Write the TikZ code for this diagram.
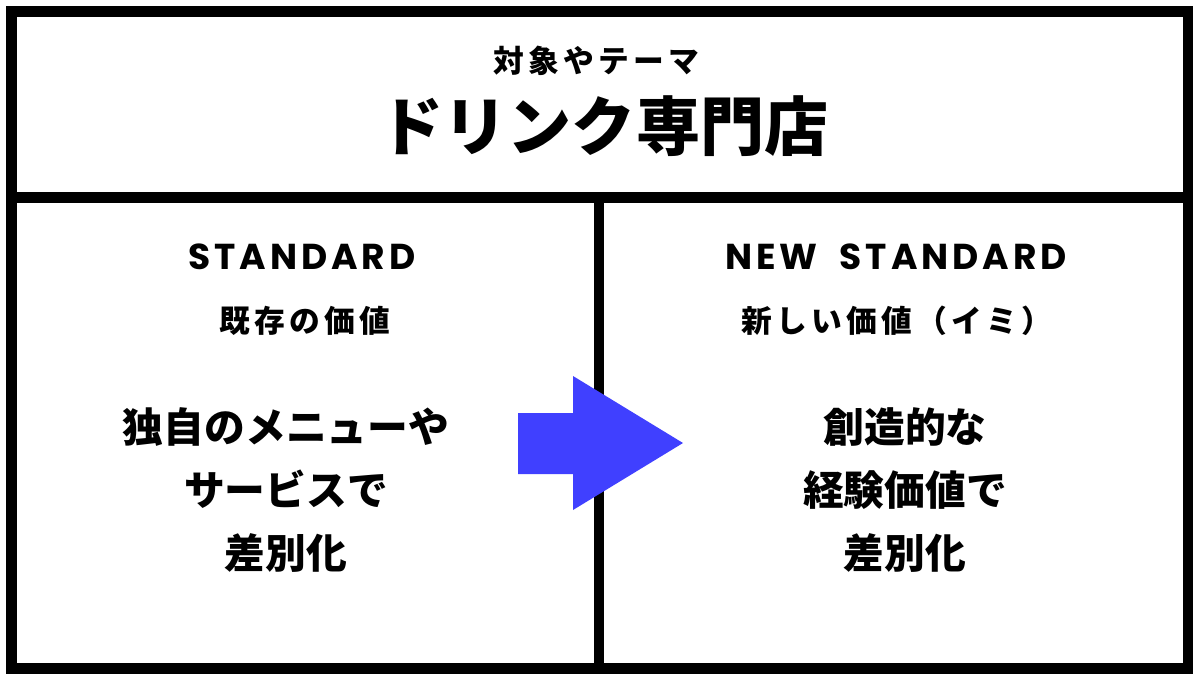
\documentclass[tikz,border=0pt]{standalone}
\usepackage{fontspec}
\newfontfamily\jpfont{Noto Sans CJK JP}
\newfontfamily\jpspaced{Noto Sans CJK JP}[LetterSpace=14]
\newfontfamily\enfont{Poppins}[LetterSpace=11]
\definecolor{arrowblue}{RGB}{64,64,255}
\tikzset{%
    frameline/.style={line width=6.2pt,draw=black},
    subtitle/.style={inner sep=0pt,font=\jpspaced\bfseries\fontsize{17.5}{20}\selectfont},
    maintitle/.style={inner sep=0pt,font=\jpfont\bfseries\fontsize{36.5}{40}\selectfont},
    heading/.style={inner sep=0pt,font=\enfont\bfseries\fontsize{20.5}{24}\selectfont},
    bodytext/.style={inner sep=0pt,align=center,font=\jpfont\bfseries\fontsize{23.2}{35.7}\selectfont}
}

\begin{document}
\begin{tikzpicture}[x=0.02cm,y=-0.02cm]
        \useasboundingbox (0,0) rectangle (1200,680);
        % frame
        \draw[frameline] (11.5,11.5) rectangle (1188,668.5);
        \draw[frameline] (11.5,197.5) -- (1188,197.5);
        \draw[frameline] (599,197.5) -- (599,668.5);
        % arrow
        \fill[arrowblue] (518,413) -- (573,413) -- (573,376) -- (683,443)
            -- (573,510) -- (573,474) -- (518,474) -- cycle;
        % top
        \node[subtitle] (theme) at (596,61) {対象やテーマ};
        \node[maintitle] (shop) at (604,126) {ドリンク専門店};
        % left
        \node[heading] (std) at (302,257) {STANDARD};
        \node[subtitle] (oldval) at (305,321) {既存の価値};
        \node[bodytext] (oldtxt) at (286,490) {独自のメニューや\\サービスで\\差別化};
        % right
        \node[heading] (newstd) at (896,257) {NEW\hspace{6pt} STANDARD};
        \node[subtitle] (newval) at (897,321) {新しい価値（イミ）};
        \node[bodytext] (newtxt) at (905,490) {創造的な\\経験価値で\\差別化};
\end{tikzpicture}
\end{document}
